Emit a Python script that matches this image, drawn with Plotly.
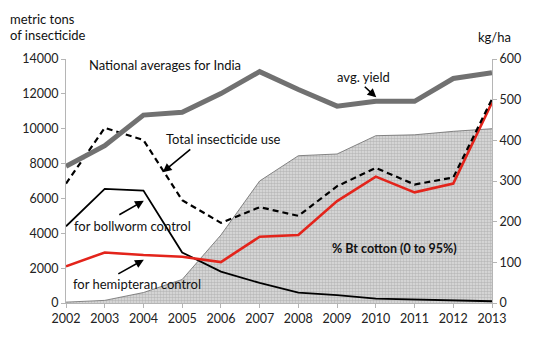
import plotly.graph_objects as go

years = list(range(2002, 2014))
bt_area = [50, 150, 600, 1350, 3900, 7000, 8450, 8550, 9600, 9650, 9850, 10000]
total_use = [6850, 10050, 9350, 5900, 4600, 5500, 5000, 6700, 7750, 6800, 7200, 11700]
bollworm = [4400, 6550, 6450, 2900, 1800, 1150, 600, 450, 250, 200, 120, 100]
hemipteran = [2100, 2900, 2750, 2650, 2350, 3800, 3900, 5850, 7250, 6350, 6850, 11500]
avg_yield = [336, 387, 462, 469, 515, 569, 525, 484, 496, 496, 552, 566]

left_ticks = [0, 2000, 4000, 6000, 8000, 10000, 12000, 14000]
right_ticks = [0, 100, 200, 300, 400, 500, 600]

FONT = "Lato"
fig = go.Figure()
fig.add_trace(go.Scatter(x=years, y=bt_area, mode="lines", fill="tozeroy",
                         line=dict(color="#6a6a6a", width=0.8),
                         fillcolor="#d0d0d0",
                         fillpattern=dict(shape=".", size=3, solidity=0.55,
                                          fgcolor="#959595", bgcolor="#dedede"),
                         showlegend=False))
fig.add_trace(go.Scatter(x=years, y=bollworm, mode="lines",
                         line=dict(color="black", width=1.8), showlegend=False))
fig.add_trace(go.Scatter(x=years, y=hemipteran, mode="lines",
                         line=dict(color="#e3241b", width=2.6), showlegend=False))
fig.add_trace(go.Scatter(x=years, y=total_use, mode="lines",
                         line=dict(color="black", width=2.2, dash="6px,4px"), showlegend=False))
fig.add_trace(go.Scatter(x=years, y=avg_yield, mode="lines", yaxis="y2",
                         line=dict(color="#717171", width=5), showlegend=False))

axis_common = dict(showgrid=False, zeroline=False, showline=True, linecolor="#b5b5b5",
                   linewidth=1, ticks="outside", tickcolor="#b5b5b5", ticklen=4,
                   tickfont=dict(family=FONT, size=12.5, color="#222"))
fig.update_layout(
    width=533, height=338, margin=dict(l=66, r=40, t=59, b=31),
    paper_bgcolor="white", plot_bgcolor="white",
    xaxis=dict(range=[2002, 2013], tickvals=years, ticktext=[str(y) for y in years], **axis_common),
    yaxis=dict(range=[0, 14000], tickvals=left_ticks, ticktext=[str(v) for v in left_ticks], **axis_common),
    yaxis2=dict(range=[0, 600], tickvals=right_ticks, ticktext=[str(v) for v in right_ticks],
                overlaying="y", side="right", **axis_common),
    showlegend=False,
)

def px(xp):
    return (xp - 66) / 427.0

def py(yp):
    return (307 - yp) / 248.0

texts = [
    ("metric tons", 8, 18, False),
    ("of insecticide", 8, 35, False),
    ("kg/ha", 477, 37, False),
    ("National averages for India", 87, 65, False),
    ("avg. yield", 336, 77, False),
    ("Total insecticide use", 164, 140, False),
    ("for bollworm control", 72, 229, False),
    ("for hemipteran control", 71, 288, False),
    ("% Bt cotton (0 to 95%)", 331, 252, True),
]
for t, x, y, bold in texts:
    fig.add_annotation(text=f"<b>{t}</b>" if bold else t, xref="paper", yref="paper",
                       x=px(x), y=py(y), xanchor="left", yanchor="middle", showarrow=False,
                       font=dict(family=FONT, size=13 if not bold else 12.5, color="#111"))

arrows = [
    (377, 98, -13, -12),
    (163, 174, 29, -24),
    (144, 203, -26, 15),
    (144, 263, -27, 15),
]
for hx, hy, ax, ay in arrows:
    fig.add_annotation(text="", xref="paper", yref="paper", x=px(hx), y=py(hy),
                       ax=ax, ay=ay, showarrow=True, arrowhead=2, arrowsize=1.1,
                       arrowwidth=1.6, arrowcolor="black")

fig.write_html("out.html")
